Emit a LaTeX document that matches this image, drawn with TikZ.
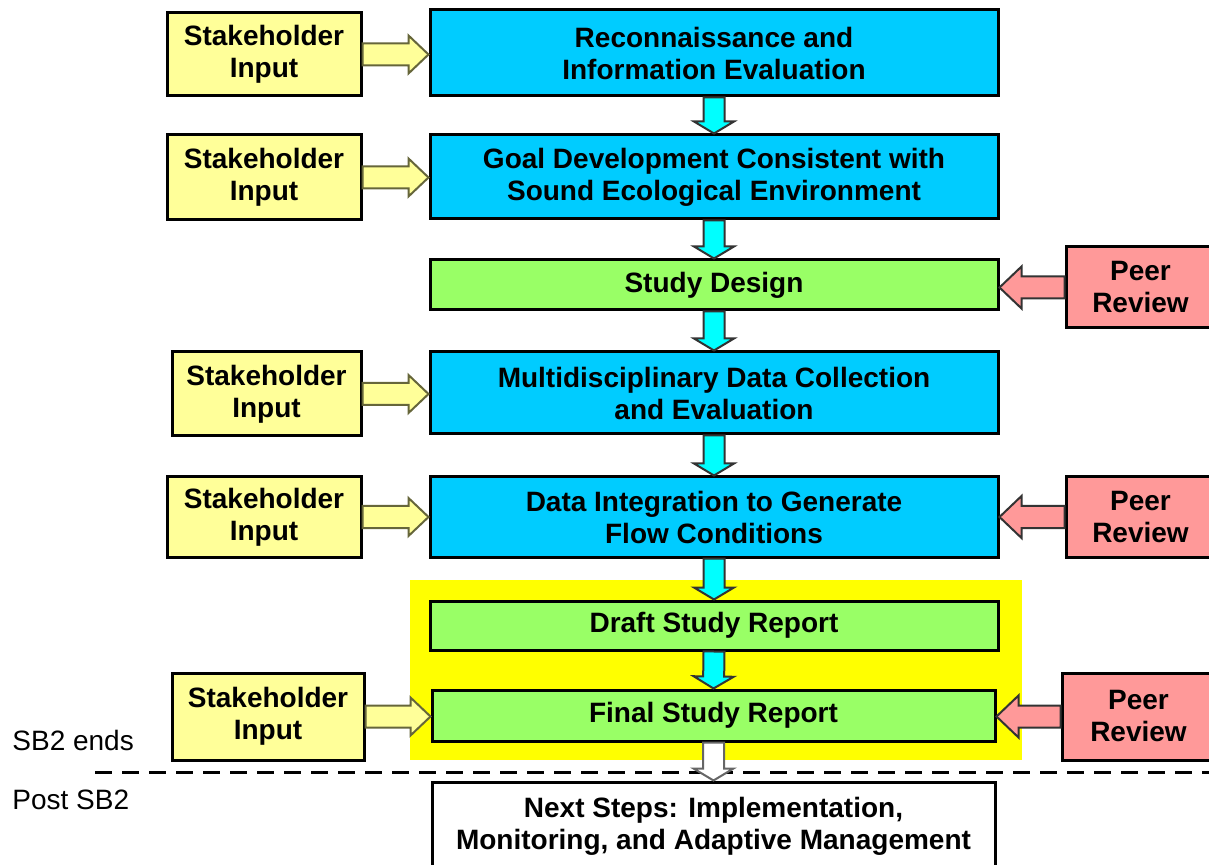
\documentclass[tikz,border=0pt]{standalone}
\usepackage{fontspec}
\setmainfont{Liberation Sans}
\usetikzlibrary{calc}

\definecolor{procblue}{HTML}{00CCFF}
\definecolor{stepgreen}{HTML}{99FF66}
\definecolor{stakeyellow}{HTML}{FFFF99}
\definecolor{peerred}{HTML}{FF9999}
\definecolor{flowcyan}{HTML}{00FFFF}
\definecolor{phaseyellow}{HTML}{FFFF00}
\definecolor{olive}{HTML}{66663A}

% block arrow from #2 to #3: shaft half-width #4, head half-width #5, head length #6
\newcommand\blockarrow[6]{%
  \coordinate (ba-a) at (#2);
  \coordinate (ba-b) at (#3);
  \coordinate (ba-n) at ($(ba-b)!#6!(ba-a)$);
  \draw[#1] ($(ba-a)!#4!90:(ba-b)$) -- ($(ba-n)!#4!90:(ba-b)$)
    -- ($(ba-n)!#5!90:(ba-b)$) -- (ba-b) -- ($(ba-n)!#5!-90:(ba-b)$)
    -- ($(ba-n)!#4!-90:(ba-b)$) -- ($(ba-a)!#4!-90:(ba-b)$) -- cycle;
}

\tikzset{
  box/.style={draw=black, line width=1.5pt, inner sep=0pt, align=center,
    font=\fontsize{14}{16}\selectfont\bfseries},
  procbox/.style={box, fill=procblue, minimum width=284pt},
  greenbox/.style={box, fill=stepgreen},
  stakebox/.style={box, fill=stakeyellow},
  peerbox/.style={box, fill=peerred},
  plainlabel/.style={anchor=west, inner sep=0pt, font=\fontsize{14}{16}\selectfont},
  yarrow/.style={fill=stakeyellow, draw=olive, line width=1pt, line join=miter},
  carrow/.style={fill=flowcyan, draw=black!80, line width=1pt, line join=miter},
  parrow/.style={fill=peerred, draw=black!80, line width=1pt, line join=miter},
  warrow/.style={fill=white, draw=black!60, line width=1pt, line join=miter},
}

\begin{document}
\begin{tikzpicture}[x=0.5pt, y=-0.5pt]
  \useasboundingbox (0,0) rectangle (1209,865);

  % report phase background
  \fill[phaseyellow] (410,580) rectangle (1022,760);

  % main process column
  \node[procbox, minimum height=43pt] (recon) at (714,53)
    {Reconnaissance and\\Information Evaluation};
  \node[procbox, minimum height=42pt] (goal) at (714,177)
    {Goal Development Consistent with\\Sound Ecological Environment};
  \node[greenbox, minimum width=284pt, minimum height=25pt] (study) at (714,285)
    {Study Design};
  \node[procbox, minimum height=41pt] (multi) at (714,393)
    {Multidisciplinary Data Collection\\and Evaluation};
  \node[procbox, minimum height=40pt] (integ) at (714,517)
    {Data Integration to Generate\\Flow Conditions};
  \node[greenbox, minimum width=284pt, minimum height=24.5pt] (draft) at (714,625.5)
    {Draft Study Report};
  \node[greenbox, minimum width=281.5pt, minimum height=25.5pt] (final) at (713.5,715.5)
    {Final Study Report};
  \node[box, fill=white, minimum width=281.5pt, minimum height=44pt] (next) at (713.5,826)
    {Next Steps: Implementation,\\Monitoring, and Adaptive Management};

  % stakeholder inputs
  \node[stakebox, minimum width=97pt, minimum height=41.5pt] (sh1) at (264,54.5)
    {Stakeholder\\Input};
  \node[stakebox, minimum width=97pt, minimum height=42.5pt] (sh2) at (264,177.5)
    {Stakeholder\\Input};
  \node[stakebox, minimum width=94.5pt, minimum height=42pt] (sh3) at (266.5,394)
    {Stakeholder\\Input};
  \node[stakebox, minimum width=97pt, minimum height=40pt] (sh4) at (264,517)
    {Stakeholder\\Input};
  \node[stakebox, minimum width=96pt, minimum height=43.5pt] (sh5) at (268,716.5)
    {Stakeholder\\Input};

  % peer reviews
  \node[peerbox, minimum width=74.5pt, minimum height=40.5pt] (peer1) at (1140.5,287.5)
    {Peer\\Review};
  \node[peerbox, minimum width=74.5pt, minimum height=40pt] (peer2) at (1140.5,517)
    {Peer\\Review};
  \node[peerbox, minimum width=76.5pt, minimum height=43.5pt] (peer3) at (1138.5,716.5)
    {Peer\\Review};

  % phase labels and divider
  \node[plainlabel] (sbend) at (12,740) {SB2 ends};
  \node[plainlabel] (post) at (12,800) {Post SB2};
  \coordinate (divl) at (95,772);
  \coordinate (divr) at (1209,772);
  \draw[line width=1.5pt, dash pattern=on 8.5pt off 5pt] (divl) -- (divr);

  % flow down the main column
  \blockarrow{carrow}{recon.south}{goal.north}{5.25pt}{10pt}{6pt}
  \blockarrow{carrow}{goal.south}{study.north}{5.25pt}{10pt}{6pt}
  \blockarrow{carrow}{study.south}{multi.north}{5.25pt}{10pt}{6pt}
  \blockarrow{carrow}{multi.south}{integ.north}{5.25pt}{10pt}{6pt}
  \blockarrow{carrow}{integ.south}{draft.north}{5.25pt}{10pt}{6pt}
  \blockarrow{carrow}{draft.south}{final.north}{5.25pt}{10pt}{6pt}
  \blockarrow{warrow}{final.south}{next.north}{5.25pt}{10pt}{6pt}

  % stakeholder input arrows
  \blockarrow{yarrow}{sh1.east}{sh1.east -| recon.west}{5.5pt}{9.5pt}{10pt}
  \blockarrow{yarrow}{sh2.east}{sh2.east -| goal.west}{5.5pt}{9.5pt}{10pt}
  \blockarrow{yarrow}{sh3.east}{sh3.east -| multi.west}{5.5pt}{9.5pt}{10pt}
  \blockarrow{yarrow}{sh4.east}{sh4.east -| integ.west}{5.5pt}{9.5pt}{10pt}
  \blockarrow{yarrow}{sh5.east}{sh5.east -| final.west}{5.5pt}{9.5pt}{10pt}

  % peer review arrows
  \blockarrow{parrow}{peer1.west}{peer1.west -| study.east}{5.5pt}{10.5pt}{11pt}
  \blockarrow{parrow}{peer2.west}{peer2.west -| integ.east}{5.5pt}{10.5pt}{11pt}
  \blockarrow{parrow}{peer3.west}{peer3.west -| final.east}{5.5pt}{10.5pt}{11pt}
\end{tikzpicture}
\end{document}
